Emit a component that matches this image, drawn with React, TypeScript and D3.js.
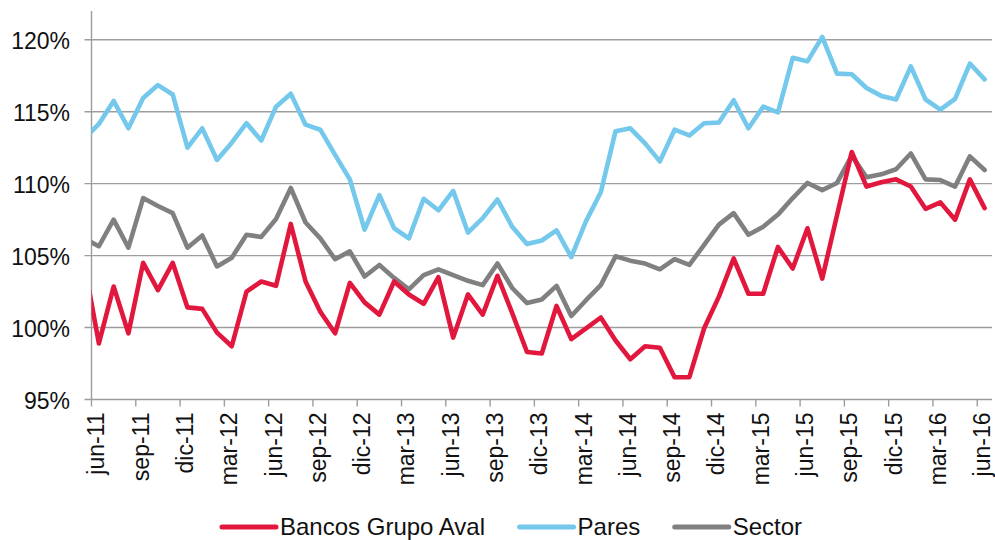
import { useEffect, useRef } from "react";
import * as d3 from "d3";

// monthly series jun-11 .. jun-16 (61 points); "prev" = may-11, only its tail shows at the axis
const months = [
  "jun-11", "jul-11", "ago-11", "sep-11", "oct-11", "nov-11", "dic-11", "ene-12", "feb-12", "mar-12",
  "abr-12", "may-12", "jun-12", "jul-12", "ago-12", "sep-12", "oct-12", "nov-12", "dic-12", "ene-13",
  "feb-13", "mar-13", "abr-13", "may-13", "jun-13", "jul-13", "ago-13", "sep-13", "oct-13", "nov-13",
  "dic-13", "ene-14", "feb-14", "mar-14", "abr-14", "may-14", "jun-14", "jul-14", "ago-14", "sep-14",
  "oct-14", "nov-14", "dic-14", "ene-15", "feb-15", "mar-15", "abr-15", "may-15", "jun-15", "jul-15",
  "ago-15", "sep-15", "oct-15", "nov-15", "dic-15", "ene-16", "feb-16", "mar-16", "abr-16", "may-16",
  "jun-16",
];

const aval = [
  98.9, 102.85, 99.6, 104.5, 102.6, 104.5, 101.4, 101.3, 99.65, 98.7,
  102.5, 103.2, 102.9, 107.2, 103.2, 101.1, 99.6, 103.1, 101.75, 100.9,
  103.2, 102.3, 101.65, 103.5, 99.3, 102.3, 100.9, 103.6, 101.0, 98.3,
  98.2, 101.5, 99.2, 99.95, 100.7, 99.1, 97.8, 98.7, 98.6, 96.55,
  96.55, 99.95, 102.15, 104.8, 102.35, 102.35, 105.6, 104.1, 106.9, 103.4,
  107.8, 112.2, 109.8, 110.1, 110.3, 109.8, 108.25, 108.7, 107.5, 110.3,
  108.3,
];

const pares = [
  114.15, 115.75, 113.85, 115.95, 116.85, 116.2, 112.5, 113.85, 111.65, 112.85,
  114.2, 113.0, 115.35, 116.25, 114.1, 113.75, 112.0, 110.3, 106.8, 109.2,
  106.9, 106.2, 108.95, 108.15, 109.5, 106.6, 107.6, 108.9, 107.0, 105.8,
  106.05, 106.75, 104.9, 107.4, 109.4, 113.65, 113.85, 112.8, 111.55, 113.75,
  113.35, 114.2, 114.25, 115.8, 113.85, 115.35, 114.95, 118.75, 118.5, 120.2,
  117.65, 117.6, 116.65, 116.1, 115.85, 118.15, 115.85, 115.15, 115.9, 118.35,
  117.25,
];

const sector = [
  105.65, 107.5, 105.55, 109.0, 108.45, 107.95, 105.55, 106.4, 104.25, 104.85,
  106.45, 106.3, 107.55, 109.7, 107.3, 106.2, 104.75, 105.3, 103.55, 104.35,
  103.45, 102.65, 103.65, 104.05, 103.65, 103.25, 102.95, 104.45, 102.75, 101.7,
  101.95, 102.9, 100.8, 101.9, 102.95, 104.95, 104.65, 104.45, 104.05, 104.75,
  104.35, 105.75, 107.15, 107.95, 106.45, 107.0, 107.85, 109.0, 110.05, 109.55,
  110.05, 111.95, 110.45, 110.65, 111.0, 112.1, 110.3, 110.25, 109.8, 111.9,
  110.95,
];

const prev = { aval: 104.5, pares: 113.1, sector: 106.2 };

const yTicks = [95, 100, 105, 110, 115, 120];

const series = [
  { name: "Bancos Grupo Aval", values: aval, first: prev.aval, color: "#e2173d" },
  { name: "Pares", values: pares, first: prev.pares, color: "#74c8eb" },
  { name: "Sector", values: sector, first: prev.sector, color: "#808080" },
];

const FONT = "'Liberation Sans', Arial, sans-serif";

export default function App() {
  const svgRef = useRef<SVGSVGElement>(null);

  useEffect(() => {
    const width = 995;
    const height = 540;
    const m = { top: 11, right: 3, bottom: 140.5, left: 91.5 };
    const x0 = m.left;
    const x1 = width - m.right;
    const y0 = height - m.bottom;

    const svg = d3.select(svgRef.current);
    svg.selectAll("*").remove();

    // category centers: index i -> month i, boundaries at i +/- 0.5
    const x = d3.scaleLinear().domain([-0.5, months.length - 0.5]).range([x0, x1]);
    const y = d3.scaleLinear().domain([95, 122]).range([y0, m.top]);

    svg.append("defs").append("clipPath").attr("id", "plot")
      .append("rect").attr("x", x0).attr("y", 0).attr("width", x1 - x0).attr("height", height);

    // gridlines
    svg.append("g").selectAll("line").data(yTicks.slice(1)).join("line")
      .attr("x1", x0 - 7).attr("x2", x1)
      .attr("y1", (d) => y(d)).attr("y2", (d) => y(d))
      .attr("stroke", "#9d9d9d").attr("stroke-width", 1.4);

    // axes
    svg.append("line").attr("x1", x0).attr("x2", x0).attr("y1", m.top).attr("y2", y0)
      .attr("stroke", "#9d9d9d").attr("stroke-width", 1.4);
    svg.append("line").attr("x1", x0 - 7).attr("x2", x1).attr("y1", y0).attr("y2", y0)
      .attr("stroke", "#9d9d9d").attr("stroke-width", 1.4);

    svg.append("g").selectAll("text").data(yTicks).join("text")
      .attr("x", 70).attr("y", (d) => y(d)).attr("dy", "0.4em")
      .attr("text-anchor", "end").attr("font-family", FONT).attr("font-size", 23)
      .attr("fill", "#111").text((d) => `${d}%`);

    const labelled = months.map((mo, i) => ({ mo, i })).filter((d) => d.i % 3 === 0);

    svg.append("g").selectAll("line").data(labelled).join("line")
      .attr("x1", (d) => x(d.i - 0.5)).attr("x2", (d) => x(d.i - 0.5))
      .attr("y1", y0).attr("y2", y0 + 7)
      .attr("stroke", "#9d9d9d").attr("stroke-width", 1.4);

    svg.append("g").selectAll("text").data(labelled).join("text")
      .attr("transform", (d) => `translate(${x(d.i)},${y0 + 13}) rotate(-90)`)
      .attr("dy", "0.24em").attr("text-anchor", "end")
      .attr("font-family", FONT).attr("font-size", 23).attr("fill", "#111")
      .text((d) => d.mo);

    // lines
    const line = d3.line<number>().x((_, i) => x(i - 1)).y((d) => y(d));
    const g = svg.append("g").attr("clip-path", "url(#plot)");
    [series[1], series[2], series[0]].forEach((s) => {
      g.append("path").attr("d", line([s.first, ...s.values]))
        .attr("fill", "none").attr("stroke", s.color).attr("stroke-width", 4.6)
        .attr("stroke-linejoin", "round").attr("stroke-linecap", "round");
    });

    // legend
    const lg = svg.append("g");
    let lx = 222;
    const ly = 527;
    series.forEach((s) => {
      lg.append("line").attr("x1", lx).attr("x2", lx + 54).attr("y1", ly).attr("y2", ly)
        .attr("stroke", s.color).attr("stroke-width", 5).attr("stroke-linecap", "round");
      const t = lg.append("text").attr("x", lx + 58).attr("y", ly + 7.5)
        .attr("font-family", FONT).attr("font-size", 24).attr("fill", "#111").text(s.name);
      const w = (t.node() as SVGTextElement).getComputedTextLength();
      lx += 58 + w + 34.5;
    });
  }, []);

  return (
    <svg ref={svgRef} width={995} height={540}
      style={{ position: "absolute", left: 0, top: 0, background: "#fff" }} />
  );
}
